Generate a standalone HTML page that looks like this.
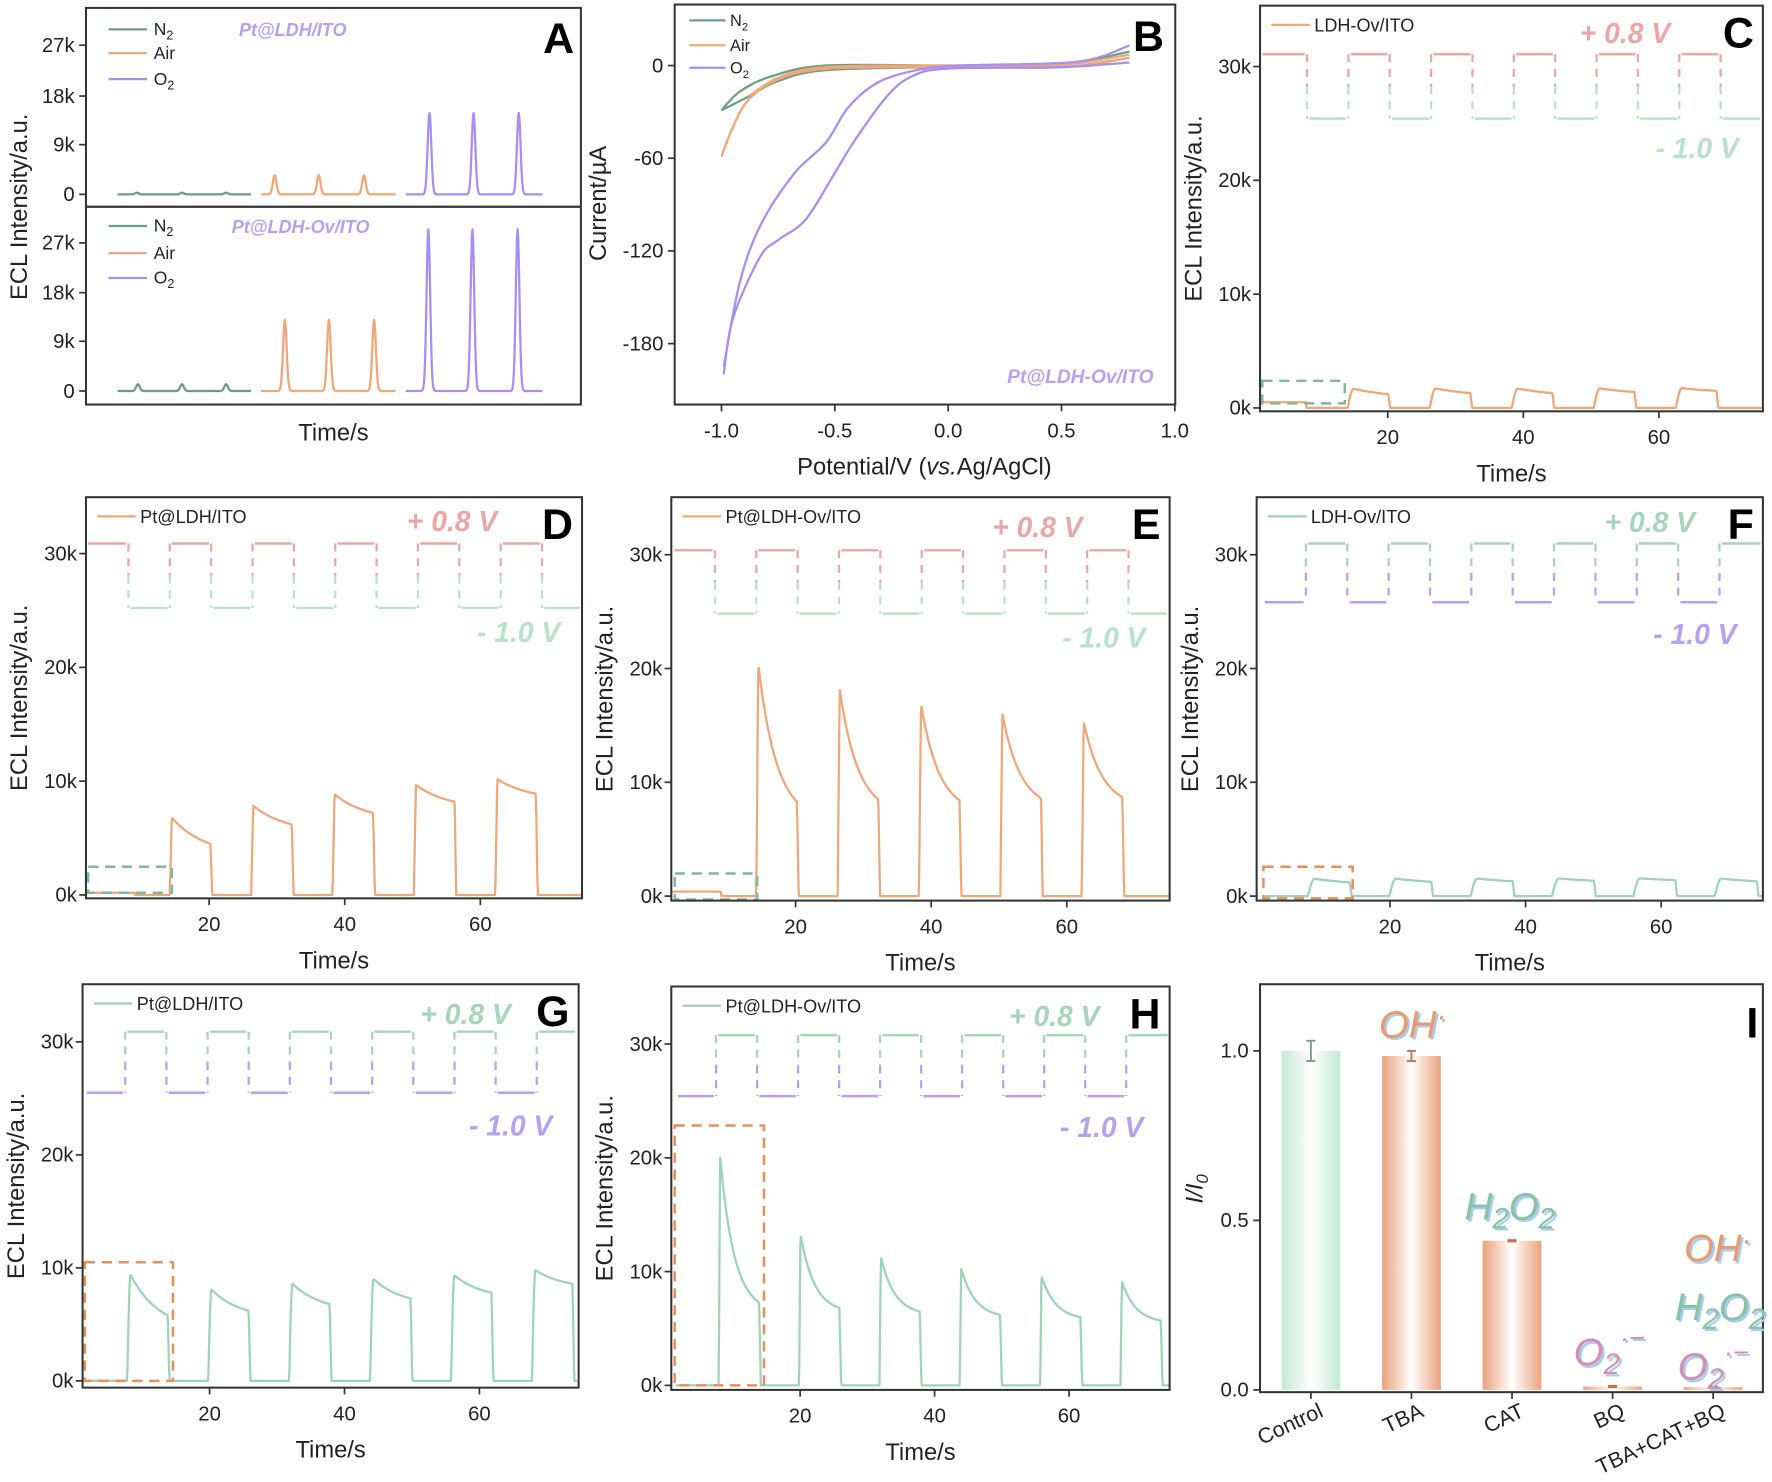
<!DOCTYPE html>
<html><head><meta charset="utf-8">
<style>
html,body{margin:0;padding:0;background:#fff;}
svg{display:block;}
text{font-family:"Liberation Sans",Arial,sans-serif;}
</style></head>
<body>
<svg id="s" xmlns="http://www.w3.org/2000/svg" width="1772" height="1482" viewBox="0 0 1568 1311.5"></svg>
<script>
const O=[];
const F='#333';
function L(x1,y1,x2,y2,c,w,extra){O.push(`<line x1="${x1}" y1="${y1}" x2="${x2}" y2="${y2}" stroke="${c}" stroke-width="${w||1.5}" ${extra||''}/>`);}
function T(x,y,s,opt){opt=opt||{};O.push(`<text x="${x}" y="${y}" font-size="${opt.fs||18}" fill="${opt.c||'#222'}" text-anchor="${opt.a||'middle'}" ${opt.b?'font-weight="bold"':''} ${opt.i?'font-style="italic"':''} ${opt.tr?`transform="${opt.tr}"`:''}>${s}</text>`);}
function P(d,c,w,extra){O.push(`<path d="${d}" fill="none" stroke="${c}" stroke-width="${w||1.8}" stroke-linejoin="round" ${extra||''}/>`);}
function R(x,y,w,h,c,extra){O.push(`<rect x="${x}" y="${y}" width="${w}" height="${h}" ${extra||`fill="none" stroke="${c}" stroke-width="1.6"`}/>`);}
function pts(a){return a.map((p,i)=>(i?'L':'M')+p[0].toFixed(1)+' '+p[1].toFixed(1)).join('');}

const OR='#efa77a', GN='#9fd3b9', RED='#eaa7a7', LG='#b8e2cc', PU='#b5a2ef', GH='#a6d4bc';

function tpanel(c){
  const xt=t=>c.xo+c.sx*t, yk=k=>c.y0k-c.sy*k;
  const tr=c.trans; let edges=[c.tmin].concat(tr).concat([c.tmax]);
  for(let i=0;i<edges.length-1;i++){
    const high=(i%2===0)===c.highFirst;
    const y=high?c.yH:c.yL, col=high?c.cH:c.cL;
    L(xt(edges[i])+2,y,xt(edges[i+1])-2,y,col,2.2);
  }
  for(const t of tr){const x=xt(t),m=(c.yH+c.yL)/2;
    L(x,c.yH,x,m,c.cH,2,'stroke-dasharray="7,6"');L(x,m,x,c.yL,c.cL,2,'stroke-dasharray="7,6"');}
  const arr=[];
  const N=900;
  for(let i=0;i<=N;i++){const t=c.tmin+(c.tmax-c.tmin)*i/N; arr.push([xt(t),yk(c.f(t))]);}
  P(pts(arr),c.lc,2);
  R(c.box[0],c.box[1],c.box[2]-c.box[0],c.box[3]-c.box[1],'',`fill="none" stroke="${c.boxc}" stroke-width="2.2" stroke-dasharray="9,6"`);
  R(c.fx0,c.fy0,c.fx1-c.fx0,c.fy1-c.fy0,'',`fill="none" stroke="${F}" stroke-width="1.8"`);
  for(const k of [0,10,20,30]){const y=yk(k);L(c.fx0-6,y,c.fx0,y,F);T(c.fx0-8,y+6,k+'k',{a:'end'});}
  for(const t of [20,40,60]){const x=xt(t);L(x,c.fy1,x,c.fy1+6,F);T(x,c.fy1+29,t);}
  T((c.fx0+c.fx1)/2+(c.tx||0),c.fy1+62,'Time/s',{fs:21});
  T(0,0,'ECL Intensity/a.u.',{fs:21,tr:`translate(${c.fx0-52},${(c.fy0+c.fy1)/2}) rotate(-90)`});
  L(c.fx0+10,c.fy0+17,c.fx0+44,c.fy0+17,c.lc,2);
  T(c.fx0+48,c.fy0+23,c.leg,{a:'start',fs:16});
  T(c.p8[0],c.p8[1],'+ 0.8 V',{fs:25,b:1,i:1,c:c.cH,a:'start'});
  T(c.m1[0],c.m1[1],'- 1.0 V',{fs:25,b:1,i:1,c:c.cL,a:'start'});
  T(c.fx1-8,c.fy0+37,c.letter,{fs:38,b:1,c:'#000',a:'end'});
}
function pulse(t,starts,len,pk,en,tau,rise,base){
  for(let k=0;k<starts.length;k++){const s=starts[k],e=s+len;
    if(t>=s&&t<=e+0.25){
      if(t>e) return en[k]*(1-(t-e)/0.25);
      const u=(t-s);
      let r=Math.min(1,u/rise);
      const f=(Math.exp(-u/len/tau)-Math.exp(-1/tau))/(1-Math.exp(-1/tau));
      const v=en[k]+(pk[k]-en[k])*f;
      return v*(rise>0.4?Math.sin(r*Math.PI/2):r);
    }}
  return base?base(t):0;
}
function seq(a,d,n){const r=[];for(let i=0;i<n;i++)r.push(a+d*i);return r;}

tpanel({xo:1108,sx:6,y0k:361,sy:10.07,tmin:1.2,tmax:75.3,fx0:1115,fx1:1560,fy0:5,fy1:364,
 trans:seq(8.1,6.1,11),highFirst:true,yH:48,yL:105,cH:RED,cL:LG,lc:OR,
 f:t=>pulse(t,seq(14.1,12.1,5),6,[1.8,1.8,1.8,1.8,1.8],[1.2,1.3,1.3,1.4,1.5],1.2,0.9,t=>t<8?0.5:0),
 box:[1117,337,1190,357],boxc:'#7fb89c',leg:'LDH-Ov/ITO',p8:[1398,38],m1:[1465,140],letter:'C',tx:0});
tpanel({xo:65,sx:6,y0k:792,sy:10.07,tmin:1.8,tmax:75,fx0:76,fx1:515,fy0:440,fy1:795,
 trans:seq(8.1,6.1,11),highFirst:true,yH:481,yL:538,cH:RED,cL:LG,lc:OR,
 f:t=>pulse(t,seq(14.2,12,5),6,[7,8,9,9.8,10.3],[4.5,6.2,7.2,8.2,8.9],0.8,0.3,t=>t<9?0.2:0),
 box:[78,767,152,790],boxc:'#7fb89c',leg:'Pt@LDH/ITO',p8:[360,470],m1:[422,568],letter:'D'});
tpanel({xo:584,sx:6,y0k:793,sy:10.07,tmin:1.8,tmax:75,fx0:594,fx1:1035,fy0:440,fy1:797,
 trans:seq(8.1,6.1,11),highFirst:true,yH:487,yL:543,cH:RED,cL:LG,lc:OR,
 f:t=>pulse(t,seq(14.2,12,5),6,[22,19.5,18,17,16.2],[8.3,8.5,8.4,8.6,8.7],0.45,0.3,t=>t<9?0.4:0),
 box:[597,773,670,796],boxc:'#7fb89c',leg:'Pt@LDH-Ov/ITO',p8:[878,475],m1:[940,573],letter:'E'});
tpanel({xo:1110,sx:6,y0k:793,sy:10.07,tmin:1.2,tmax:75,fx0:1112,fx1:1560,fy0:440,fy1:797,
 trans:seq(7.6,6.1,11),highFirst:false,yH:481,yL:533,cH:GH,cL:PU,lc:GN,
 f:t=>pulse(t,seq(7.9,12,6),6.2,[1.6,1.6,1.6,1.6,1.6,1.6],[1.2,1.25,1.3,1.35,1.4,1.3],1.5,1.0),
 box:[1118,767,1197,795],boxc:'#e58f5e',leg:'LDH-Ov/ITO',p8:[1420,471],m1:[1463,570],letter:'F'});
tpanel({xo:66,sx:5.97,y0k:1222,sy:10.0,tmin:1.5,tmax:74.5,fx0:73,fx1:512,fy0:871,fy1:1228,
 trans:seq(7.5,6.1,11),highFirst:false,yH:913,yL:967,cH:GH,cL:PU,lc:GN,
 f:t=>pulse(t,seq(7.8,12,6),6,[10,8.4,8.9,9.3,9.6,10],[5.8,6.2,6.8,7.3,7.8,8.6],0.7,0.5),
 box:[75,1117,153,1222],boxc:'#e58f5e',leg:'Pt@LDH/ITO',p8:[372,906],m1:[415,1005],letter:'G'});
tpanel({xo:589,sx:5.95,y0k:1226,sy:10.07,tmin:1.5,tmax:75,fx0:594,fx1:1035,fy0:873,fy1:1230,
 trans:seq(7.5,6.1,11),highFirst:false,yH:916,yL:970,cH:GH,cL:PU,lc:GN,
 f:t=>pulse(t,seq(7.9,11.95,6),6,[21.5,14,11.8,10.7,10,9.5],[7.3,6.8,6.5,6.2,6,5.7],0.35,0.2),
 box:[597,996,676,1226],boxc:'#e58f5e',leg:'Pt@LDH-Ov/ITO',p8:[893,908],m1:[938,1006],letter:'H'});

(function(){
  R(76,7,438,351,'',`fill="none" stroke="${F}" stroke-width="1.8"`);
  L(76,183,514,183,F,2);
  const cols=['#6e9c87',OR,'#a68ff0'];
  function sub(y0,sc,peaks){
    const ranges=[[104,222],[231,350],[359,480]];
    ranges.forEach((r,i)=>{const a=[];for(let x=r[0];x<=r[1];x+=0.5){let v=0;for(const p of peaks[i].xs){v+=peaks[i].h*Math.exp(-((x-p)**2)/(2*1.6*1.6));}a.push([x,y0-v]);}P(pts(a),cols[i],2);});
  }
  sub(172,1,[{xs:[121,161,200],h:1.5},{xs:[243,282,322],h:17},{xs:[380,419,459],h:72}]);
  sub(346,1,[{xs:[122,161,200],h:6},{xs:[252,291,331],h:63},{xs:[379,418,458],h:143}]);
  [[172,'0'],[128,'9k'],[85,'18k'],[40,'27k'],[346,'0'],[302,'9k'],[259,'18k'],[215,'27k']].forEach(([y,s])=>{L(70,y,76,y,F);T(66,y+6,s,{a:'end'});});
  T(295,390,'Time/s',{fs:21});
  T(0,0,'ECL Intensity/a.u.',{fs:21,tr:'translate(24,183) rotate(-90)'});
  const lg=(y,i,lab)=>{L(96,y,130,y,cols[i],2);O.push(`<text x="136" y="${y+5}" font-size="15.5" fill="#222">${lab}</text>`);};
  const N2='N<tspan dy="4" font-size="11">2</tspan>', O2='O<tspan dy="4" font-size="11">2</tspan>';
  lg(26,0,N2);lg(47,1,'Air');lg(70,2,O2);lg(200,0,N2);lg(224,1,'Air');lg(246,2,O2);
  T(259,32,'Pt@LDH/ITO',{fs:16,b:1,i:1,c:'#b4a2f0'});
  T(266,206,'Pt@LDH-Ov/ITO',{fs:16,b:1,i:1,c:'#b4a2f0'});
  T(508,47,'A',{fs:38,b:1,c:'#000',a:'end'});
})();

(function(){
  const X=v=>839+200.6*v, Y=i=>58-1.367*i;
  function smooth(a){
    const q=a.map(p=>[X(p[0]),Y(p[1])]);let d='M'+q[0][0]+' '+q[0][1];
    for(let i=0;i<q.length-1;i++){const p0=q[i-1]||q[i],p1=q[i],p2=q[i+1],p3=q[i+2]||p2;
      d+=`C${(p1[0]+(p2[0]-p0[0])/6).toFixed(1)} ${(p1[1]+(p2[1]-p0[1])/6).toFixed(1)} ${(p2[0]-(p3[0]-p1[0])/6).toFixed(1)} ${(p2[1]-(p3[1]-p1[1])/6).toFixed(1)} ${p2[0].toFixed(1)} ${p2[1].toFixed(1)}`;}
    return d;}
  P(smooth([[-1,-29],[-0.92,-17],[-0.78,-7],[-0.54,0],[0,0],[0.5,1],[0.8,9]]),'#6e9c87',2);
  P(smooth([[-1,-29],[-0.88,-20],[-0.75,-10],[-0.54,-3],[0,-1],[0.5,-1],[0.8,5]]),'#6e9c87',2);
  P(smooth([[-1,-59],[-0.95,-40],[-0.88,-22],[-0.75,-9],[-0.53,-2],[0,-1],[0.5,-1],[0.8,5]]),OR,2);
  P(smooth([[-0.88,-20],[-0.75,-8],[-0.54,-1],[0,0],[0.5,0.5],[0.8,7]]),OR,2);
  P(smooth([[-0.99,-200],[-0.95,-164],[-0.83,-124],[-0.75,-113],[-0.63,-100],[-0.51,-72],[-0.41,-48],[-0.27,-20],[-0.16,-7],[0,-2],[0.5,-1],[0.8,2]]),'#a68ff0',2);
  P(smooth([[-0.99,-195],[-0.92,-141],[-0.83,-104],[-0.68,-70],[-0.54,-50],[-0.44,-27],[-0.31,-11],[-0.14,-3],[0.06,0],[0.57,2.5],[0.8,13]]),'#a68ff0',2);
  R(597,4,443,354,'',`fill="none" stroke="${F}" stroke-width="1.8"`);
  [[-1,'-1.0'],[-0.5,'-0.5'],[0,'0.0'],[0.5,'0.5'],[1,'1.0']].forEach(([v,s])=>{const x=X(v);L(x,358,x,364,F);T(x,387,s);});
  [[0,'0'],[-60,'-60'],[-120,'-120'],[-180,'-180']].forEach(([v,s])=>{const y=Y(v);L(591,y,597,y,F);T(587,y+6,s,{a:'end'});});
  T(0,0,'Current/µA',{fs:21,tr:'translate(536,180) rotate(-90)'});
  O.push(`<text x="818" y="420" font-size="21" fill="#222" text-anchor="middle">Potential/V (<tspan font-style="italic">vs.</tspan>Ag/AgCl)</text>`);
  const lg=(y,c,lab)=>{L(610,y,642,y,c,2);O.push(`<text x="646" y="${y+5}" font-size="14.5" fill="#222">${lab}</text>`);};
  lg(18,'#6e9c87','N<tspan dy="4" font-size="10">2</tspan>');lg(40,OR,'Air');lg(60,'#a68ff0','O<tspan dy="4" font-size="10">2</tspan>');
  T(956,339,'Pt@LDH-Ov/ITO',{fs:17,b:1,i:1,c:'#b4a2f0'});
  T(1030,45,'B',{fs:38,b:1,c:'#000',a:'end'});
})();

(function(){
  O.push(`<defs><linearGradient id="gg" x1="0" x2="1"><stop offset="0" stop-color="#c3e8d3"/><stop offset="0.5" stop-color="#ffffff"/><stop offset="1" stop-color="#c3e8d3"/></linearGradient>
  <linearGradient id="go" x1="0" x2="1"><stop offset="0" stop-color="#eaa27c"/><stop offset="0.5" stop-color="#ffffff"/><stop offset="1" stop-color="#eaa27c"/></linearGradient></defs>`);
  const Y=v=>1230-300*v;
  const bars=[[1160,1.0,'gg'],[1249,0.985,'go'],[1338,0.44,'go'],[1427,0.01,'go'],[1516,0.008,'go']];
  bars.forEach(([x,v,g])=>{O.push(`<rect x="${x-26}" y="${Y(v)}" width="52" height="${1230-Y(v)}" fill="url(#${g})"/>`);});
  const eb=(x,v,e,c)=>{L(x,Y(v+e),x,Y(v-e),c,1.6);L(x-4,Y(v+e),x+4,Y(v+e),c,1.6);L(x-4,Y(v-e),x+4,Y(v-e),c,1.6);};
  eb(1160,1.0,0.03,'#6e9c87');eb(1249,0.985,0.015,'#c0704a');eb(1338,0.44,0.002,'#c0704a');eb(1427,0.01,0.002,'#c0704a');eb(1516,0.008,0.002,'#c0704a');
  R(1115,871,445,361,'',`fill="none" stroke="${F}" stroke-width="1.8"`);
  [[0,'0.0'],[0.5,'0.5'],[1,'1.0']].forEach(([v,s])=>{const y=Y(v);L(1109,y,1115,y,F);T(1105,y+6,s,{a:'end'});});
  const labs=[['Control',1160],['TBA',1249],['CAT',1338],['BQ',1427],['TBA+CAT+BQ',1516]];
  labs.forEach(([s,x])=>{L(x,1232,x,1238,F);T(0,0,s,{fs:19,a:'end',tr:`translate(${x+12},${1253}) rotate(-25)`});});
  O.push(`<text font-size="21" fill="#222" font-style="italic" transform="translate(1064,1052) rotate(-90)" text-anchor="middle">I/I<tspan dy="5" font-size="15">0</tspan></text>`);
  T(1556,918,'I',{fs:38,b:1,c:'#000',a:'end'});
  const ann=(x,y,html,c)=>{O.push(`<text x="${x+2}" y="${y+2}" font-size="34" font-style="italic" fill="#a9cdf0" text-anchor="middle">${html}</text><text x="${x}" y="${y}" font-size="34" font-style="italic" fill="${c}" text-anchor="middle">${html}</text>`);};
  const H2O2='H<tspan dy="8" font-size="26">2</tspan><tspan dy="-8">O</tspan><tspan dy="8" font-size="26">2</tspan>';
  const O2r='O<tspan dy="8" font-size="26">2</tspan><tspan dy="-24" font-size="24">·−</tspan>';
  const OH='OH<tspan dy="-10" font-size="26">·</tspan>';
  ann(1250,918,OH,'#ec9a6a');
  ann(1336,1079,H2O2,'#88c3a6');
  ann(1424,1208,O2r,'#d58fb0');
  ann(1520,1116,OH,'#ec9a6a');
  ann(1522,1168,H2O2,'#88c3a6');
  ann(1516,1221,O2r,'#d58fb0');
})();
document.getElementById('s').innerHTML=O.join('');
</script>
</body></html>
